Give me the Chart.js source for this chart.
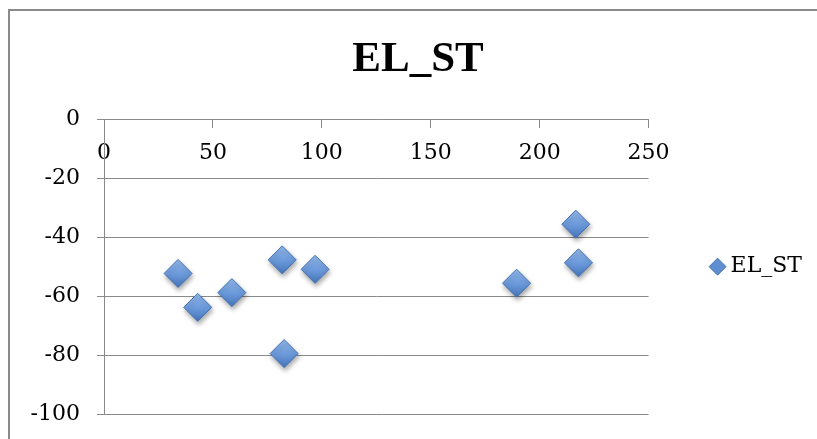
<!DOCTYPE html>
<html>
<head>
<meta charset="utf-8">
<script src="https://cdn.jsdelivr.net/npm/chart.js@4/dist/chart.umd.min.js"></script>
<style>
  html, body { margin: 0; padding: 0; background: #fff; }
  #wrap { width: 817px; height: 439px; }
</style>
</head>
<body>
<div id="wrap"><canvas id="chart"></canvas></div>
<script>
// Serie EL_ST
const seriesName = 'EL_ST';
const xValues = [34.0, 43.0, 58.7, 81.8, 82.7, 96.9, 189.4, 216.6, 217.8];
const yValues = [-52.3, -63.8, -58.8, -47.7, -79.5, -50.9, -55.6, -35.6, -48.7];
const xTicks = [0, 50, 100, 150, 200, 250];
const yTicks = [0, -20, -40, -60, -80, -100];

const gridColor = '#8a8a8a';
const tickFont = { family: '"DejaVu Serif", serif', size: 22 };
const markerRadius = 14;

/**
 * Preenchimento em degradê dos losangos (claro em cima, escuro embaixo)
 */
function markerFill(ctx) {
  const chart = ctx.chart;
  const yScale = chart.scales && chart.scales.y;
  if (ctx.type !== 'data' || !yScale || !ctx.parsed) return '#5f8fd0';
  const py = yScale.getPixelForValue(ctx.parsed.y);
  if (!Number.isFinite(py)) return '#5f8fd0';
  const g = chart.ctx.createLinearGradient(0, py - markerRadius, 0, py + markerRadius);
  g.addColorStop(0, '#93b8ea');
  g.addColorStop(0.5, '#6d9bdc');
  g.addColorStop(1, '#4676ba');
  return g;
}

// Sombra suave sob os marcadores
const markerShadow = {
  id: 'markerShadow',
  beforeDatasetsDraw(chart) {
    const c = chart.ctx;
    c.save();
    c.shadowColor = 'rgba(0,0,0,0.35)';
    c.shadowBlur = 5;
    c.shadowOffsetX = 1;
    c.shadowOffsetY = 3;
  },
  afterDatasetsDraw(chart) {
    chart.ctx.restore();
  }
};

// Moldura cinza do gráfico (borda superior e esquerda)
const chartFrame = {
  id: 'chartFrame',
  beforeDraw(chart) {
    const c = chart.ctx;
    c.save();
    c.strokeStyle = '#8a8a8a';
    c.lineWidth = 2;
    c.beginPath();
    c.moveTo(9, chart.height);
    c.lineTo(9, 10);
    c.lineTo(chart.width, 10);
    c.stroke();
    c.restore();
  }
};

const points = xValues.map((x, i) => ({ x: x, y: yValues[i] }));

new Chart(document.getElementById('chart'), {
  type: 'scatter',
  data: {
    datasets: [{
      label: seriesName,
      data: points,
      pointStyle: 'rectRot',
      pointRadius: markerRadius,
      pointHoverRadius: markerRadius,
      pointBorderWidth: 1,
      borderColor: '#4272b4',
      backgroundColor: markerFill,
      showLine: false
    }]
  },
  options: {
    responsive: true,
    maintainAspectRatio: false,
    animation: false,
    layout: { padding: { left: 24, right: 5, top: 0, bottom: 25 } },
    plugins: {
      title: {
        display: true,
        text: seriesName,
        color: '#000',
        font: { family: '"Liberation Serif", serif', size: 43, weight: 'bold', lineHeight: 1.2 },
        padding: { top: 34, bottom: 33.7 }
      },
      legend: {
        position: 'right',
        fullSize: false,
        align: 'center',
        labels: {
          usePointStyle: true,
          boxWidth: 4,
          boxHeight: 12,
          padding: 67,
          color: '#000',
          font: { family: '"DejaVu Serif", serif', size: 22 },
          generateLabels(chart) {
            const items = Chart.defaults.plugins.legend.labels.generateLabels(chart);
            return items.map(it => Object.assign(it, {
              fillStyle: '#5f8fd0',
              strokeStyle: '#4272b4',
              lineWidth: 1,
              pointStyle: 'rectRot'
            }));
          }
        }
      },
      tooltip: { enabled: false }
    },
    scales: {
      x: {
        type: 'linear',
        min: 0,
        max: 250,
        position: { y: 0 },
        afterFit(s) { s.height = 0; },
        afterBuildTicks(s) { s.ticks = xTicks.map(v => ({ value: v })); },
        grid: { drawOnChartArea: false, drawTicks: true, tickLength: 8, color: gridColor },
        border: { display: true, color: gridColor, width: 1 },
        ticks: { color: '#000', font: tickFont, padding: 13, maxRotation: 0 }
      },
      y: {
        type: 'linear',
        min: -100,
        max: 0,
        afterFit(s) {
          s.width = 80;
          s.paddingTop = 0;
          s.paddingBottom = 0;
        },
        afterBuildTicks(s) { s.ticks = yTicks.map(v => ({ value: v })); },
        grid: { color: gridColor, drawTicks: true, tickLength: 7 },
        border: { display: true, color: gridColor, width: 1 },
        ticks: { color: '#000', font: tickFont, padding: 17 }
      }
    }
  },
  plugins: [chartFrame, markerShadow]
});
</script>
</body>
</html>
